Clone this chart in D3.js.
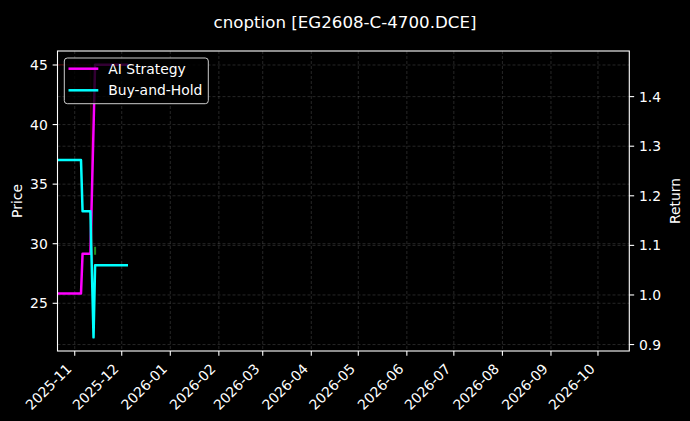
<!DOCTYPE html>
<html>
<head>
<meta charset="utf-8">
<script src="https://cdn.jsdelivr.net/npm/d3@7/dist/d3.min.js"></script>
<style>
  html, body { margin: 0; padding: 0; background: #000; }
  svg { display: block; font-family: "DejaVu Sans", sans-serif; }
</style>
</head>
<body>
<svg id="chart" width="690" height="421"></svg>
<script>
// ---- data ----
const title = "cnoption [EG2608-C-4700.DCE]";
const xDomainDates = ["2025-10-21", "2026-10-21"];
const monthTicks = ["2025-11","2025-12","2026-01","2026-02","2026-03","2026-04","2026-05","2026-06","2026-07","2026-08","2026-09","2026-10"];
const priceTicks = [25, 30, 35, 40, 45];
const returnTicks = [0.9, 1.0, 1.1, 1.2, 1.3, 1.4];

// underlying price (left axis), drawn very faint in the reference
const priceDates  = ["2025-10-21", "2025-11-11", "2025-11-13", "2025-11-14", "2025-12-05"];
const priceValues = [45.03, 45.03, 22.14, 28.2, 28.2];

// AI Strategy cumulative return (right axis)
const aiDates  = ["2025-10-21", "2025-11-05", "2025-11-06", "2025-11-11", "2025-11-14", "2025-12-05"];
const aiValues = [1.003, 1.003, 1.083, 1.083, 1.4645, 1.4645];

// Buy-and-Hold cumulative return (right axis)
const bhDates  = ["2025-10-21", "2025-11-05", "2025-11-06", "2025-11-11", "2025-11-13", "2025-11-14", "2025-12-05"];
const bhValues = [1.272, 1.272, 1.169, 1.169, 0.9145, 1.060, 1.060];

// trade marker
const buyDates  = ["2025-11-14"];
const buyPrices = [29.4];

// ---- layout ----
const W = 690, H = 421;
const m = { left: 57.5, right: 629.3, top: 51, bottom: 351 };
const parse = d3.timeParse("%Y-%m-%d");

const svg = d3.select("#chart");
svg.append("rect").attr("width", W).attr("height", H).attr("fill", "#000");

const x = d3.scaleTime().domain(xDomainDates.map(parse)).range([m.left, m.right]);

function padded(vals) {
  const lo = d3.min(vals), hi = d3.max(vals), r = hi - lo;
  return [lo - 0.05 * r, hi + 0.05 * r];
}
const yP = d3.scaleLinear().domain(padded(priceValues)).range([m.bottom, m.top]);
const yR = d3.scaleLinear().domain(padded(aiValues.concat(bhValues))).range([m.bottom, m.top]);

svg.append("defs").append("clipPath").attr("id", "clip")
  .append("rect").attr("x", m.left).attr("y", m.top)
  .attr("width", m.right - m.left).attr("height", m.bottom - m.top);

// ---- grids ----
const grid = svg.append("g").attr("stroke", "#fff").attr("stroke-opacity", 0.25)
  .attr("stroke-width", 0.6).attr("stroke-dasharray", "3,2").attr("fill", "none");
monthTicks.forEach(t => {
  const xx = x(parse(t + "-01"));
  grid.append("line").attr("x1", xx).attr("x2", xx).attr("y1", m.top).attr("y2", m.bottom);
});
priceTicks.forEach(t => {
  grid.append("line").attr("x1", m.left).attr("x2", m.right).attr("y1", yP(t)).attr("y2", yP(t));
});
returnTicks.forEach(t => {
  grid.append("line").attr("x1", m.left).attr("x2", m.right).attr("y1", yR(t)).attr("y2", yR(t));
});

// ---- lines ----
const plot = svg.append("g").attr("clip-path", "url(#clip)");
const priceData = priceDates.map((d, i) => ({ d: parse(d), v: priceValues[i] }));
const aiData = aiDates.map((d, i) => ({ d: parse(d), v: aiValues[i] }));
const bhData = bhDates.map((d, i) => ({ d: parse(d), v: bhValues[i] }));

plot.append("path").datum(priceData)
  .attr("fill", "none").attr("stroke", "#3a0606").attr("stroke-width", 1.5)
  .attr("d", d3.line().x(p => x(p.d)).y(p => yP(p.v)));

buyDates.forEach((d, i) => {
  const cx = x(parse(d)), cy = yP(buyPrices[i]);
  plot.append("line").attr("x1", cx).attr("x2", cx).attr("y1", cy - 4).attr("y2", cy + 4)
    .attr("stroke", "#1f8f1f").attr("stroke-width", 2);
});

plot.append("path").datum(aiData)
  .attr("fill", "none").attr("stroke", "#ff00ff").attr("stroke-width", 2.5)
  .attr("stroke-linejoin", "round")
  .attr("d", d3.line().x(p => x(p.d)).y(p => yR(p.v)));

plot.append("path").datum(bhData)
  .attr("fill", "none").attr("stroke", "#00ffff").attr("stroke-width", 2.5)
  .attr("stroke-linejoin", "round")
  .attr("d", d3.line().x(p => x(p.d)).y(p => yR(p.v)));

// ---- spines ----
svg.append("rect").attr("x", m.left).attr("y", m.top)
  .attr("width", m.right - m.left).attr("height", m.bottom - m.top)
  .attr("fill", "none").attr("stroke", "#fff").attr("stroke-width", 1.1);

// ---- axes ----
const fs = 13.9;
const tickLen = 4.86;
const axG = svg.append("g").attr("fill", "#fff").attr("font-size", fs);

// left
priceTicks.forEach(t => {
  const yy = yP(t);
  axG.append("line").attr("x1", m.left - tickLen).attr("x2", m.left).attr("y1", yy).attr("y2", yy)
    .attr("stroke", "#fff").attr("stroke-width", 1.1);
  axG.append("text").attr("x", m.left - tickLen - 4.86).attr("y", yy).attr("dy", "0.36em")
    .attr("text-anchor", "end").text(d3.format("d")(t));
});
// right
returnTicks.forEach(t => {
  const yy = yR(t);
  axG.append("line").attr("x1", m.right).attr("x2", m.right + tickLen).attr("y1", yy).attr("y2", yy)
    .attr("stroke", "#fff").attr("stroke-width", 1.1);
  axG.append("text").attr("x", m.right + tickLen + 4.86).attr("y", yy).attr("dy", "0.36em")
    .attr("text-anchor", "start").text(d3.format(".1f")(t));
});
// bottom
monthTicks.forEach(t => {
  const xx = x(parse(t + "-01"));
  axG.append("line").attr("x1", xx).attr("x2", xx).attr("y1", m.bottom).attr("y2", m.bottom + tickLen)
    .attr("stroke", "#fff").attr("stroke-width", 1.1);
  axG.append("text").attr("text-anchor", "end")
    .attr("transform", `translate(${xx - 2.3},${369.8}) rotate(-45)`)
    .text(t);
});

// labels
axG.append("text").attr("text-anchor", "middle")
  .attr("transform", `translate(21.5,${(m.top + m.bottom) / 2}) rotate(-90)`).text("Price");
axG.append("text").attr("text-anchor", "middle")
  .attr("transform", `translate(679.5,${(m.top + m.bottom) / 2}) rotate(-90)`).text("Return");

svg.append("text").attr("x", 345).attr("y", 28).attr("text-anchor", "middle")
  .attr("fill", "#fff").attr("font-size", 16.67).text(title);

// ---- legend ----
const lg = svg.append("g");
lg.append("rect").attr("x", 64.3).attr("y", 58).attr("width", 144).attr("height", 45.7)
  .attr("rx", 3).attr("fill", "#000").attr("fill-opacity", 0.8)
  .attr("stroke", "#cccccc").attr("stroke-width", 1);
const legendItems = [{ name: "AI Strategy", color: "#ff00ff" }, { name: "Buy-and-Hold", color: "#00ffff" }];
legendItems.forEach((it, i) => {
  const yy = 68.7 + i * 21.6;
  lg.append("line").attr("x1", 68.5).attr("x2", 98.3).attr("y1", yy).attr("y2", yy)
    .attr("stroke", it.color).attr("stroke-width", 2.5);
  lg.append("text").attr("x", 108.3).attr("y", yy).attr("dy", "0.36em")
    .attr("fill", "#fff").attr("font-size", fs).text(it.name);
});
</script>
</body>
</html>
